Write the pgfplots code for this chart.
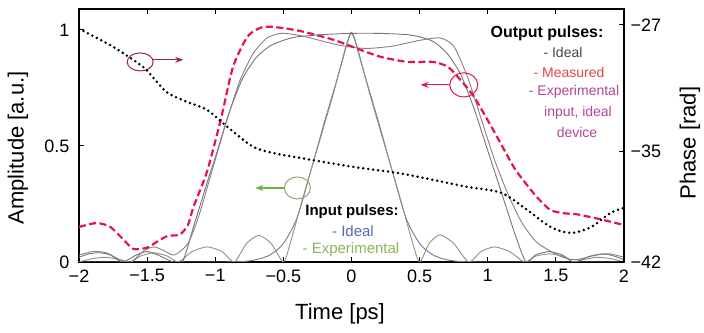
\documentclass[border=0pt]{standalone}
\usepackage{fontspec}
\setmainfont{Liberation Sans}
\usepackage{pgfplots}
\pgfplotsset{compat=1.18}
\usetikzlibrary{arrows.meta}

\definecolor{meas}{RGB}{228,22,72}
\definecolor{outideal}{RGB}{118,118,118}
\definecolor{expdev}{RGB}{150,120,140}
\definecolor{inideal}{RGB}{115,122,152}
\definecolor{inexp}{RGB}{138,150,126}
\definecolor{txtideal}{RGB}{70,70,70}
\definecolor{txtmeas}{RGB}{225,70,70}
\definecolor{txtexp}{RGB}{180,70,150}
\definecolor{txtinideal}{RGB}{90,105,175}
\definecolor{txtinexp}{RGB}{140,180,90}
\definecolor{maroon}{RGB}{150,40,60}
\definecolor{arrgreen}{RGB}{105,180,60}
\definecolor{ellgreen}{RGB}{150,160,120}

\begin{document}
\begin{tikzpicture}[x=1pt,y=1pt]
\path[use as bounding box] (0,0) rectangle (704,332);

\begin{axis}[
  at={(79pt,70pt)}, anchor=south west,
  scale only axis, width=545pt, height=253pt,
  xmin=-2, xmax=2, ymin=0, ymax=1.09,
  xtick={-2,-1.5,-1,-0.5,0,0.5,1,1.5,2},
  xticklabels={−2,−1.5,−1,−0.5,0,0.5,1,1.5,2},
  ytick={0,0.5,1}, yticklabels={0,0.5,1},
  xtick pos=both, ytick pos=left,
  tick align=inside, major tick length=5pt,
  tick style={line width=1pt, black},
  axis line style={line width=1.3pt},
  ticklabel style={font=\fontsize{18}{20}\selectfont},
  xticklabel style={yshift=-4pt},
  yticklabel style={xshift=-6pt},
  xlabel={Time [ps]},
  xlabel style={at={(axis description cs:0.479,-0.206)}, anchor=center, font=\fontsize{22}{24}\selectfont},
  ylabel={Amplitude [a.u.]},
  ylabel style={at={(axis description cs:-0.112,0.451)}, anchor=center, font=\fontsize{22}{24}\selectfont},
]
% input ideal
\addplot[inideal, line width=0.9pt, smooth, tension=0.5] coordinates {
(-2,0) (-1.0,0) (-0.8,0.002) (-0.7,0.01) (-0.6,0.03) (-0.5,0.08) (-0.4,0.19) (-0.3,0.39)
(-0.2,0.6) (-0.1,0.8) (-0.04,0.93) (0,0.99) (0.04,0.93) (0.1,0.8) (0.2,0.6) (0.3,0.39)
(0.4,0.19) (0.5,0.08) (0.6,0.03) (0.7,0.01) (0.8,0.002) (1.0,0) (2,0)};
% input experimental
\addplot[inexp, line width=0.9pt, smooth, tension=0.4] coordinates {
(-2,0) (-1.9,0.015) (-1.8,0.02) (-1.7,0.01) (-1.62,0) (-1.55,0.025) (-1.45,0.04) (-1.35,0.025) (-1.27,0)
(-1.17,0.045) (-1.06,0.065) (-0.95,0.045) (-0.86,0) (-0.77,0.08) (-0.68,0.115) (-0.59,0.08) (-0.5,0)
(-0.45,0.08) (-0.35,0.29) (-0.25,0.49) (-0.15,0.69) (-0.07,0.86) (0,0.985)
(0.07,0.86) (0.15,0.69) (0.25,0.49) (0.35,0.29) (0.45,0.08) (0.5,0)
(0.57,0.08) (0.65,0.117) (0.75,0.08) (0.86,0) (0.95,0.045) (1.05,0.065) (1.16,0.045) (1.27,0)
(1.35,0.025) (1.45,0.035) (1.55,0.025) (1.63,0) (1.7,0.01) (1.8,0.02) (1.9,0.015) (2,0)};
% output ideal
\addplot[outideal, line width=0.9pt, smooth, tension=0.4] coordinates {
(-2,0.02) (-1.93,0.035) (-1.85,0.04) (-1.77,0.03) (-1.68,0) (-1.58,0.03) (-1.5,0.045) (-1.42,0.03)
(-1.31,0) (-1.24,0) (-1.15,0.17) (-1.05,0.36) (-1.0,0.45) (-0.9,0.64) (-0.8,0.79) (-0.7,0.88)
(-0.6,0.93) (-0.5,0.955) (-0.4,0.97) (-0.2,0.98) (0,0.985) (0.2,0.985) (0.4,0.98) (0.5,0.97)
(0.6,0.95) (0.7,0.9) (0.8,0.81) (0.9,0.66) (1.0,0.48) (1.1,0.3) (1.2,0.12) (1.28,0)
(1.35,0.03) (1.45,0.045) (1.55,0.03) (1.63,0) (1.75,0.025) (1.85,0.035) (1.93,0.025) (2,0.01)};
% output experimental input, ideal device
\addplot[expdev, line width=0.9pt, smooth, tension=0.4] coordinates {
(-2,0.03) (-1.9,0.045) (-1.8,0.04) (-1.7,0.01) (-1.62,0) (-1.52,0.05) (-1.45,0.065) (-1.38,0.05)
(-1.3,0.03) (-1.2,0.08) (-1.12,0.2) (-1.02,0.4) (-0.92,0.6) (-0.82,0.78) (-0.72,0.9) (-0.62,0.965)
(-0.52,0.985) (-0.42,0.98) (-0.3,0.965) (-0.1,0.935) (0.1,0.92) (0.3,0.93) (0.5,0.955) (0.65,0.965)
(0.75,0.93) (0.85,0.8) (0.95,0.62) (1.05,0.44) (1.15,0.29) (1.25,0.17) (1.35,0.09) (1.45,0.05)
(1.55,0.02) (1.65,0.01) (1.8,0.03) (1.9,0.035) (2,0.02)};
% measured output
\addplot[meas, line width=2.2pt, dash pattern=on 7pt off 3.5pt, smooth, tension=0.4] coordinates {
(-2,0.151) (-1.87,0.168) (-1.77,0.151) (-1.68,0.10) (-1.60,0.056) (-1.50,0.062) (-1.42,0.09)
(-1.35,0.112) (-1.26,0.118) (-1.2,0.16) (-1.16,0.237) (-1.06,0.39) (-0.96,0.612) (-0.87,0.84)
(-0.765,0.97) (-0.67,1.009) (-0.574,1.013) (-0.375,0.995) (-0.13,0.957) (0.066,0.914) (0.213,0.884)
(0.41,0.862) (0.60,0.862) (0.71,0.84) (0.80,0.784) (0.90,0.711) (1.04,0.569) (1.19,0.41)
(1.26,0.353) (1.36,0.28) (1.46,0.224) (1.56,0.21) (1.66,0.205) (1.85,0.181) (2.0,0.159)};

% annotations
\draw[maroon, line width=1pt] (axis cs:-1.551,0.862) ellipse [x radius=13pt, y radius=9pt];
\draw[maroon, line width=1.2pt, -{Stealth[length=8pt,width=6pt]}] (axis cs:-1.456,0.871) -- (axis cs:-1.235,0.871);
\draw[meas, line width=1pt] (axis cs:0.824,0.763) ellipse [x radius=14pt, y radius=12pt];
\draw[meas, line width=1.2pt, -{Stealth[length=8pt,width=6pt]}] (axis cs:0.72,0.763) -- (axis cs:0.507,0.763);
\draw[ellgreen, line width=1pt] (axis cs:-0.397,0.319) ellipse [x radius=13pt, y radius=11pt];
\draw[arrgreen, line width=1.2pt, -{Stealth[length=8pt,width=6pt]}] (axis cs:-0.493,0.319) -- (axis cs:-0.706,0.319);
\end{axis}

\begin{axis}[
  at={(79pt,70pt)}, anchor=south west,
  scale only axis, width=545pt, height=253pt,
  xmin=-2, xmax=2, ymin=-42, ymax=-26,
  axis x line=none, axis y line*=right,
  ytick={-42,-35,-27}, yticklabels={−42,−35,−27},
  tick align=inside, major tick length=5pt,
  tick style={line width=1pt, black},
  axis line style={line width=1.3pt},
  ticklabel style={font=\fontsize{18}{20}\selectfont},
  yticklabel style={xshift=3pt},
  ylabel={Phase [rad]},
  ylabel style={at={(axis description cs:1.121,0.47)}, anchor=center, font=\fontsize{22}{24}\selectfont},
]
\addplot[black, line width=2.8pt, line cap=round, dash pattern=on 0pt off 5pt, smooth, tension=0.5] coordinates {
(-2,-27.25) (-1.75,-28.39) (-1.53,-29.66) (-1.45,-30.4) (-1.35,-31.3) (-1.2,-31.9) (-1.06,-32.38)
(-0.91,-33.46) (-0.72,-34.72) (-0.55,-35.15) (-0.375,-35.42) (0.015,-35.99) (0.34,-36.37)
(0.6,-36.81) (0.85,-37.25) (1.1,-37.63) (1.29,-38.71) (1.46,-39.78) (1.61,-40.16) (1.76,-39.78)
(1.9,-38.9) (2.0,-38.58)};
\end{axis}

\node[font=\bfseries\fontsize{16}{18}\selectfont] at (547,299) {Output pulses:};
\node[font=\fontsize{14}{16}\selectfont, text=txtideal] at (563,280) {- Ideal};
\node[font=\fontsize{14}{16}\selectfont, text=txtmeas] at (569,260) {- Measured};
\node[font=\fontsize{14}{16}\selectfont, text=txtexp] at (574,240) {- Experimental};
\node[font=\fontsize{14}{16}\selectfont, text=txtexp] at (578,219) {input, ideal};
\node[font=\fontsize{14}{16}\selectfont, text=txtexp] at (577,200) {device};

\node[font=\bfseries\fontsize{15}{17}\selectfont] at (352,120) {Input pulses:};
\node[font=\fontsize{15}{17}\selectfont, text=txtinideal] at (353,101) {- Ideal};
\node[font=\fontsize{15}{17}\selectfont, text=txtinexp] at (351,82) {- Experimental};
\end{tikzpicture}
\end{document}
